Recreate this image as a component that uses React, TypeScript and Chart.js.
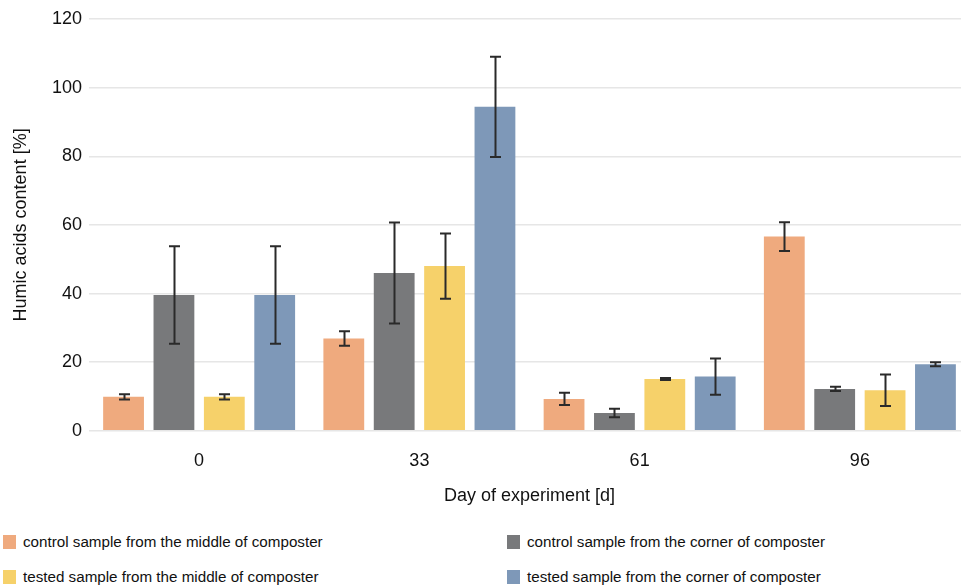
import React, { useEffect, useRef } from "react";
import { Chart, registerables } from "chart.js";

Chart.register(...registerables);

const days = ["0", "33", "61", "96"];
const yTicks = [0, 20, 40, 60, 80, 100, 120];

const seriesLabels = [
  "control sample from the middle of composter",
  "control sample from the corner of composter",
  "tested sample from the middle of composter",
  "tested sample from the corner of composter",
];
const seriesColors = ["#EFAA7E", "#78797B", "#F6D16A", "#7E98B8"];

const controlMiddle = [9.9, 26.9, 9.3, 56.6];
const controlMiddleErr = [0.75, 2.1, 1.8, 4.2];
const controlCorner = [39.6, 46.0, 5.2, 12.2];
const controlCornerErr = [14.2, 14.7, 1.25, 0.6];
const testedMiddle = [9.9, 48.0, 15.1, 11.8];
const testedMiddleErr = [0.75, 9.5, 0.3, 4.6];
const testedCorner = [39.6, 94.4, 15.8, 19.4];
const testedCornerErr = [14.2, 14.6, 5.3, 0.6];

const seriesValues = [controlMiddle, controlCorner, testedMiddle, testedCorner];
const seriesErrors = [controlMiddleErr, controlCornerErr, testedMiddleErr, testedCornerErr];

const FONT = "'Liberation Sans', Arial, sans-serif";

const errorBarPlugin = {
  id: "errorBars",
  afterDatasetsDraw(chart: any) {
    const ctx = chart.ctx;
    const yScale = chart.scales.y;
    ctx.save();
    ctx.strokeStyle = "#2a2a2a";
    ctx.lineWidth = 2;
    chart.data.datasets.forEach((ds: any, i: number) => {
      const meta = chart.getDatasetMeta(i);
      const errs = seriesErrors[i];
      meta.data.forEach((el: any, j: number) => {
        const v = ds.data[j];
        const e = errs[j];
        const x = Math.round(el.x) + 0.5;
        const yt = yScale.getPixelForValue(v + e);
        const yb = yScale.getPixelForValue(v - e);
        const cap = 5.5;
        ctx.beginPath();
        ctx.moveTo(x, yt);
        ctx.lineTo(x, yb);
        ctx.moveTo(x - cap, yt);
        ctx.lineTo(x + cap, yt);
        ctx.moveTo(x - cap, yb);
        ctx.lineTo(x + cap, yb);
        ctx.stroke();
      });
    });
    ctx.restore();
  },
};

export default function App() {
  const ref = useRef<HTMLCanvasElement | null>(null);

  useEffect(() => {
    if (!ref.current) return;
    const chart = new Chart(ref.current, {
      type: "bar",
      data: {
        labels: days,
        datasets: seriesValues.map((vals, i) => ({
          label: seriesLabels[i],
          data: vals,
          backgroundColor: seriesColors[i],
          borderWidth: 0,
          barPercentage: 0.81,
          categoryPercentage: 0.915,
        })),
      },
      options: {
        animation: false,
        responsive: false,
        maintainAspectRatio: false,
        layout: { padding: { top: 19, right: 2, left: 0, bottom: 0 } },
        plugins: {
          legend: { display: false },
          tooltip: { enabled: false },
        },
        scales: {
          x: {
            grid: { display: false, drawTicks: false },
            border: { display: false },
            ticks: {
              color: "#111",
              padding: 19,
              font: { family: FONT, size: 18 },
            },
            title: {
              display: true,
              text: "Day of experiment [d]",
              color: "#111",
              font: { family: FONT, size: 18 },
              padding: { top: -5, bottom: 4 },
            },
          },
          y: {
            min: 0,
            max: 120,
            afterBuildTicks: (s: any) => {
              s.ticks = yTicks.map((v) => ({ value: v }));
            },
            afterFit: (s: any) => {
              s.width = 89;
            },
            grid: { color: "#e6e6e6", lineWidth: 1.5, drawTicks: false },
            border: { display: false },
            ticks: {
              color: "#111",
              padding: 7,
              font: { family: FONT, size: 18 },
            },
            title: {
              display: true,
              text: "Humic acids content [%]",
              color: "#111",
              font: { family: FONT, size: 18 },
              padding: { top: 10, bottom: 0 },
            },
          },
        },
      },
      plugins: [errorBarPlugin],
    });
    return () => chart.destroy();
  }, []);

  const legendPos = [
    { left: 3, top: 533 },
    { left: 507, top: 533 },
    { left: 3, top: 568 },
    { left: 507, top: 568 },
  ];

  return (
    <div
      style={{
        position: "absolute",
        left: 0,
        top: 0,
        width: 961,
        height: 588,
        overflow: "hidden",
        background: "#fff",
      }}
    >
      <canvas ref={ref} width={972} height={511} style={{ display: "block", width: 972, height: 511 }} />
      {seriesLabels.map((lab, i) => (
        <div
          key={lab}
          style={{
            position: "absolute",
            left: legendPos[i].left,
            top: legendPos[i].top,
            display: "flex",
            alignItems: "center",
            fontFamily: FONT,
            fontSize: 15.2,
            lineHeight: "18px",
            color: "#111",
            whiteSpace: "nowrap",
          }}
        >
          <span
            style={{
              display: "inline-block",
              width: 13,
              height: 14,
              background: seriesColors[i],
              marginRight: 7,
            }}
          />
          <span>{lab}</span>
        </div>
      ))}
    </div>
  );
}
